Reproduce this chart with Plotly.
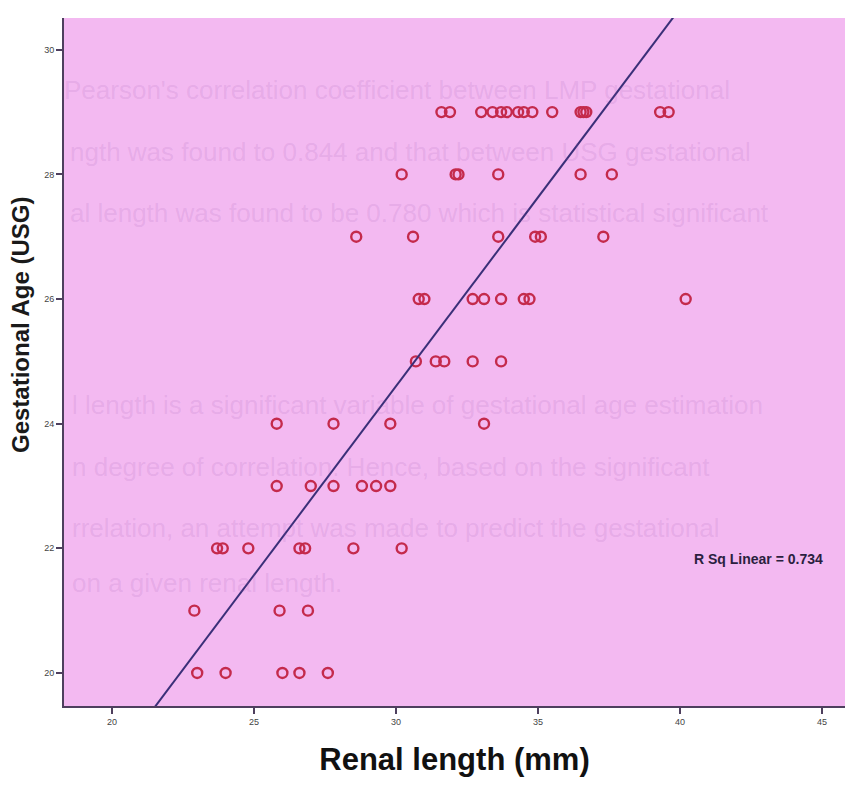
import plotly.graph_objects as go

# ---- data ----
renal_length = [
    31.6, 31.9, 33.0, 33.4, 33.7, 33.9, 34.3, 34.5, 34.8, 35.5, 36.5, 36.6, 36.7, 39.3, 39.6,
    30.2, 32.1, 32.2, 33.6, 36.5, 37.6,
    28.6, 30.6, 33.6, 34.9, 35.1, 37.3,
    30.8, 31.0, 32.7, 33.1, 33.7, 34.5, 34.7, 40.2,
    30.7, 31.4, 31.7, 32.7, 33.7,
    25.8, 27.8, 29.8, 33.1,
    25.8, 27.0, 27.8, 28.8, 29.3, 29.8,
    23.7, 23.9, 24.8, 26.6, 26.8, 28.5, 30.2,
    22.9, 25.9, 26.9,
    23.0, 24.0, 26.0, 26.6, 27.6,
]
gestational_age = (
    [29] * 15 + [28] * 6 + [27] * 6 + [26] * 8 + [25] * 5
    + [24] * 4 + [23] * 6 + [22] * 7 + [21] * 3 + [20] * 5
)

fit_x = [18.3, 46.1]
fit_y = [17.51, 34.36]
r_sq_label = "R Sq Linear = 0.734"

x_ticks = [20, 25, 30, 35, 40, 45]
y_ticks = [20, 22, 24, 26, 28, 30]

# faint show-through text visible in the scanned page
ghost_lines = [
    "Pearson's correlation coefficient between LMP gestational",
    "ngth was found to 0.844 and that between USG gestational",
    "al length was found to be 0.780 which is statistical significant",
    "l length is a significant variable of gestational age estimation",
    "n degree of correlation. Hence, based on the significant",
    "rrelation, an attempt was made to predict the gestational",
    "on a given renal length.",
]
ghost_x = [62, 68, 68, 70, 70, 70, 70]
ghost_y = [90, 152, 213, 405, 467, 528, 583]

# page has an 8px body margin; size the figure so the page does not overflow
OFF = 8
W, H = 853 - 2 * OFF, 785 - 2 * OFF
ML, MR, MT, MB = 56, 0, 10, 71
PW, PH = W - ML - MR, H - MT - MB


def px_to_paper(sx, sy):
    return (sx - OFF - ML) / PW, (H - MB - (sy - OFF)) / PH


fig = go.Figure()

fig.add_trace(go.Scatter(
    x=renal_length, y=gestational_age, mode="markers",
    marker=dict(symbol="circle-open", size=10, color="#c42a4c",
                line=dict(width=2.4, color="#c42a4c")),
    showlegend=False, hoverinfo="x+y",
))

fig.add_trace(go.Scatter(
    x=fit_x, y=fit_y, mode="lines",
    line=dict(color="#3a2f78", width=2),
    showlegend=False, hoverinfo="skip",
))

annotations = []
for txt, gx, gy in zip(ghost_lines, ghost_x, ghost_y):
    ax, ay = px_to_paper(gx, gy)
    annotations.append(dict(
        x=ax, y=ay, xref="paper", yref="paper",
        xanchor="left", yanchor="middle", text=txt, showarrow=False,
        font=dict(family="Liberation Sans, Arial", size=26, color="rgba(150,85,170,0.15)"),
    ))

annotations.append(dict(
    x=42.75, y=21.83, xref="x", yref="y", text="<b>" + r_sq_label + "</b>",
    showarrow=False, xanchor="center", yanchor="middle",
    font=dict(family="Liberation Sans, Arial", size=14, color="#2b1f3f"),
))

tx, ty = px_to_paper(20, 325)
annotations.append(dict(
    x=tx, y=ty, xref="paper", yref="paper",
    text="<b>Gestational Age (USG)</b>", textangle=-90, showarrow=False,
    xanchor="center", yanchor="middle",
    font=dict(family="Liberation Sans, Arial", size=24, color="#1a1a1a"),
))

fig.update_layout(
    width=W, height=H,
    margin=dict(l=ML, r=MR, t=MT, b=MB),
    paper_bgcolor="white",
    plot_bgcolor="rgb(243,185,241)",
    annotations=annotations,
    showlegend=False,
)

fig.update_xaxes(
    range=[18.31, 45.81], tickvals=x_ticks, ticktext=[str(v) for v in x_ticks],
    showgrid=False, zeroline=False, automargin=False,
    showline=True, linecolor="#4e3f5e", linewidth=2,
    ticks="outside", ticklen=6, tickwidth=1.5, tickcolor="#4e3f5e",
    tickfont=dict(family="Liberation Sans, Arial", size=9, color="#444"),
    title=dict(text="<b>Renal length (mm)</b>", standoff=28,
               font=dict(family="Liberation Sans, Arial", size=31, color="#111")),
)
fig.update_yaxes(
    range=[19.47, 30.51], tickvals=y_ticks, ticktext=[str(v) for v in y_ticks],
    showgrid=False, zeroline=False, automargin=False,
    showline=True, linecolor="#4e3f5e", linewidth=2,
    ticks="outside", ticklen=6, tickwidth=1.5, tickcolor="#4e3f5e",
    tickfont=dict(family="Liberation Sans, Arial", size=9, color="#444"),
)

fig.write_html("out.html")
